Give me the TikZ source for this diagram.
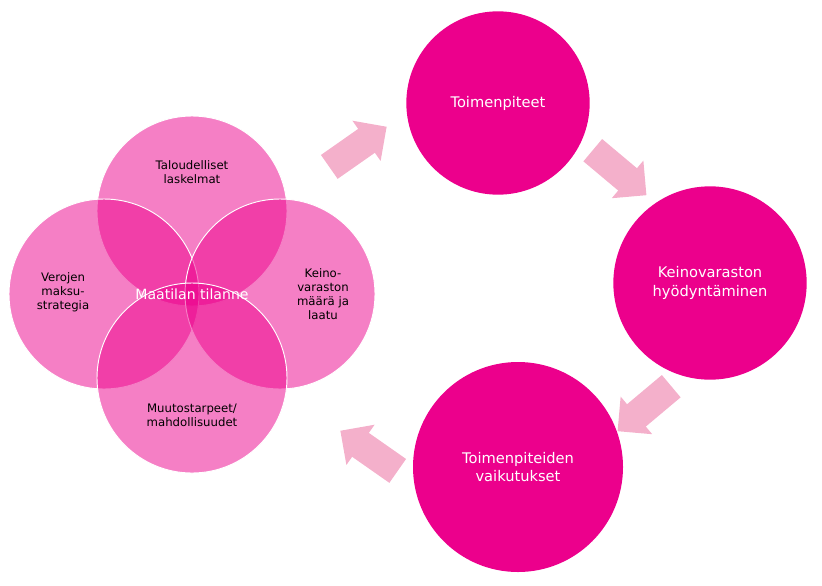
\documentclass[tikz,border=0pt]{standalone}
\usepackage{fontspec}
\setmainfont{DejaVu Sans}
\usetikzlibrary{shapes.arrows}
\definecolor{hot}{RGB}{236,0,140}
\definecolor{soft}{RGB}{244,176,203}
\tikzset{
    venn/.style={circle, draw=white, thick, fill=hot, fill opacity=0.5, text opacity=1, minimum size=5.7cm, inner sep=0},
    vt/.style={align=center, font=\fontsize{10}{12}\selectfont, text=black},
    big/.style={circle, fill=hot, text=white, align=center, font=\fontsize{12.5}{15.5}\selectfont},
    arr/.style={single arrow, fill=soft, minimum height=2.1cm, inner xsep=0, inner ysep=0.43cm, single arrow head extend=0.3cm}
}
\begin{document}
\begin{tikzpicture}[x=0.03cm, y=-0.03cm]
        \useasboundingbox (0,0) rectangle (822,585);
        % venn of farm state
        \node[venn] (top) at (192,211) {};
        \node[venn] (left) at (104,294) {};
        \node[venn] (right) at (280,294) {};
        \node[venn] (bottom) at (192,378) {};
        \node[vt] at (192,172) {Taloudelliset\\laskelmat};
        \node[vt] at (63,292) {Verojen\\maksu-\\strategia};
        \node[vt] at (323,294) {Keino-\\varaston\\määrä ja\\laatu};
        \node[vt] at (192,415) {Muutostarpeet/\\mahdollisuudet};
        \node[text=white, font=\fontsize{12}{15}\selectfont] (centre) at (192,294) {Maatilan tilanne};

        % cycle
        \node[big, minimum size=5.5cm] (act) at (498,103) {Toimenpiteet};
        \node[big, minimum size=5.8cm] (use) at (710,283) {Keinovaraston\\hyödyntäminen};
        \node[big, minimum size=6.3cm] (eff) at (518,467) {Toimenpiteiden\\vaikutukset};

        \node[arr, rotate=35] (a1) at (352,151) {};
        \node[arr, rotate=-40] (a2) at (614,168) {};
        \node[arr, rotate=-140] (a3) at (650,404) {};
        \node[arr, rotate=145] (a4) at (375,455) {};
\end{tikzpicture}
\end{document}
